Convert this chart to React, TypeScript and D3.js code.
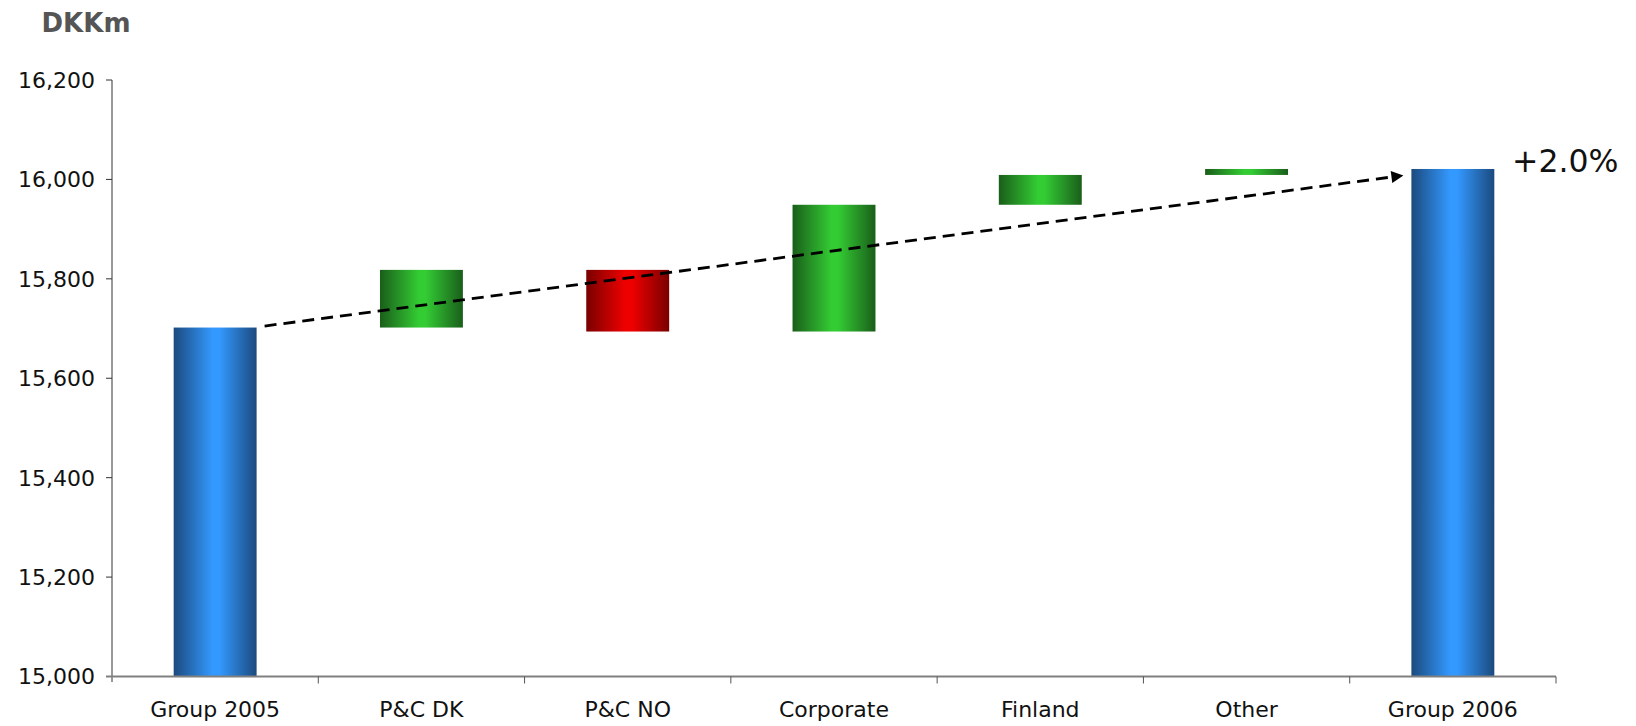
import React from "react";
import * as d3 from "d3";

const categories = ["Group 2005", "P&C DK", "P&C NO", "Corporate", "Finland", "Other", "Group 2006"];
// change per category (totals for first and last)
const values = [15702, 116, -124, 255, 60, 12, 16021];
const kinds = ["total", "delta", "delta", "delta", "delta", "delta", "total"];
const yTicks = [15000, 15200, 15400, 15600, 15800, 16000, 16200];
const arrowValues = [15705, 16008];
const growthLabel = "+2.0%";
const unitLabel = "DKKm";

const W = 1636;
const H = 726;

export default function App() {
  const x = d3.scaleBand<string>().domain(categories).range([112, 1556]).paddingInner(0).paddingOuter(0);
  const y = d3.scaleLinear().domain([15000, 16200]).range([676.5, 80]);
  const bw = x.bandwidth();
  const barW = bw * 0.402;

  let running = 0;
  const bars = categories.map((c, i) => {
    const v = values[i];
    let lo: number, hi: number, fill: string;
    if (kinds[i] === "total") {
      lo = 15000;
      hi = v;
      running = v;
      fill = "url(#gBlue)";
    } else {
      const start = running;
      const end = running + v;
      lo = Math.min(start, end);
      hi = Math.max(start, end);
      running = end;
      fill = v >= 0 ? "url(#gGreen)" : "url(#gRed)";
    }
    const cx = (x(c) as number) + bw / 2;
    return { c, x: cx - barW / 2, y0: y(hi), y1: y(lo), fill };
  });

  const b0 = bars[0];
  const bLast = bars[bars.length - 1];
  const lx1 = b0.x + barW + 8;
  const ly1 = y(arrowValues[0]);
  const lx2 = bLast.x - 8;
  const ly2 = y(arrowValues[1]);

  const font = "'DejaVu Sans', Verdana, sans-serif";

  const grad = (id: string, dark: string, light: string) => (
    <linearGradient id={id} x1="0" x2="1" y1="0" y2="0">
      <stop offset="0" stopColor={dark} />
      <stop offset="0.47" stopColor={light} />
      <stop offset="0.55" stopColor={light} />
      <stop offset="1" stopColor={dark} />
    </linearGradient>
  );

  const ang = Math.atan2(ly2 - ly1, lx2 - lx1);
  const L = 12, Hh = 6;
  const bx = lx2 - L * Math.cos(ang);
  const by = ly2 - L * Math.sin(ang);
  const px = -Math.sin(ang) * Hh;
  const py = Math.cos(ang) * Hh;
  const arrowPath = `M${lx2},${ly2} L${bx + px},${by + py} L${bx - px},${by - py} Z`;

  return (
    <svg width={W} height={H} style={{ position: "absolute", left: 0, top: 0, background: "#fff" }}>
      <defs>
        {grad("gBlue", "#1b4a7e", "#3399ff")}
        {grad("gGreen", "#1a5e1a", "#33cc33")}
        {grad("gRed", "#7a0000", "#ee0000")}
      </defs>

      <text x={41.5} y={31.5} fontFamily={font} fontWeight="bold" fontSize={26} fill="#555">{unitLabel}</text>

      {bars.map((b) => (
        <rect key={b.c} x={b.x} y={b.y0} width={barW} height={Math.max(0, b.y1 - b.y0)} fill={b.fill} />
      ))}

      {/* y axis */}
      <line x1={112} x2={112} y1={80} y2={682} stroke="#333" strokeWidth={1} />
      {yTicks.map((t) => (
        <g key={t}>
          <line x1={106} x2={112} y1={y(t)} y2={y(t)} stroke="#333" strokeWidth={1} />
          <text x={95} y={y(t)} dy="0.36em" textAnchor="end" fontFamily={font} fontSize={22} fill="#111">
            {d3.format(",")(t)}
          </text>
        </g>
      ))}

      {/* x axis */}
      <line x1={106} x2={1556} y1={y(15000)} y2={y(15000)} stroke="#808080" strokeWidth={2} />
      {categories.map((c, i) => (
        <line key={"t" + i} x1={(x(c) as number) + bw} x2={(x(c) as number) + bw} y1={y(15000)} y2={y(15000) + 7} stroke="#555" strokeWidth={1} />
      ))}
      {categories.map((c) => (
        <text key={"l" + c} x={(x(c) as number) + bw / 2} y={716.5} textAnchor="middle" fontFamily={font} fontSize={22} fill="#111">
          {c}
        </text>
      ))}

      {/* dashed trend arrow */}
      <line x1={lx1} y1={ly1} x2={bx} y2={by} stroke="#000" strokeWidth={2.8} strokeDasharray="12,7" />
      <path d={arrowPath} fill="#000" />

      <text x={1512} y={171.5} fontFamily={font} fontSize={31.5} fill="#111">{growthLabel}</text>
    </svg>
  );
}
